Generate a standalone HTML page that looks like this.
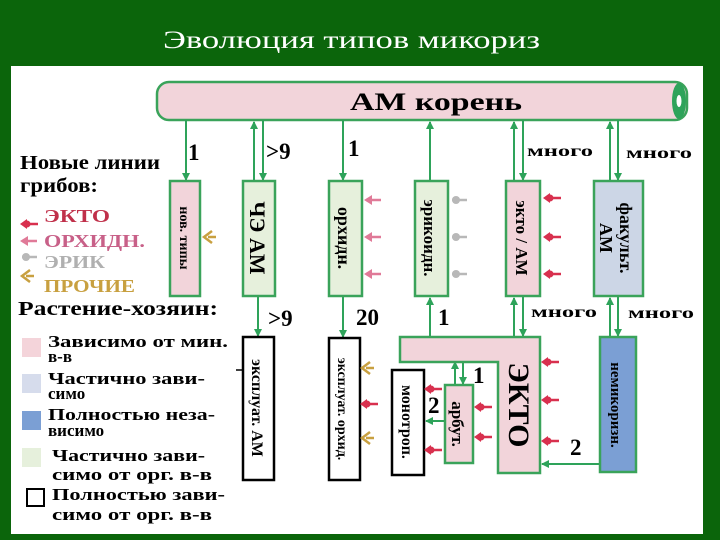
<!DOCTYPE html>
<html><head><meta charset="utf-8"><style>
html,body{margin:0;padding:0;background:#0b650b;}
svg{display:block}
text{font-family:"Liberation Serif",serif;}
</style></head><body>
<svg width="720" height="540" viewBox="0 0 720 540" xmlns="http://www.w3.org/2000/svg">
<defs>
<marker id="a" markerWidth="8" markerHeight="8" refX="7" refY="4" orient="auto" markerUnits="userSpaceOnUse"><path d="M0,0 L8,4 L0,8 z" fill="#2ea35a"/></marker>
<g id="red"><path d="M0,0 H16" stroke="#d8304e" stroke-width="2.5"/><path d="M-2,0 L5,-5 L5,5 z" fill="#d8304e"/><circle cx="5" cy="0" r="3.5" fill="#d8304e"/></g>
<g id="pink"><path d="M0,0 H15" stroke="#e07a98" stroke-width="2.5"/><path d="M-2,0 L6,-5 L6,5 z" fill="#e07a98"/></g>
<g id="grey"><path d="M0,0 H15" stroke="#b8b8b8" stroke-width="2.5"/><circle cx="4" cy="0" r="4" fill="#b8b8b8"/></g>
<g id="yel"><path d="M8,-6 L0,0 L8,6 M4,0 H12" stroke="#c8a040" stroke-width="2.5" fill="none"/></g>
</defs>
<rect width="720" height="540" fill="#0b650b"/>
<text x="163" y="48" fill="#fff" font-size="25" textLength="377" lengthAdjust="spacingAndGlyphs">Эволюция типов микориз</text>
<rect x="11" y="66" width="692" height="468" fill="#fff"/>

<rect x="157" y="82" width="530" height="38" rx="12" fill="#f2d4da" stroke="#3aa35a" stroke-width="2.5"/>
<ellipse cx="679" cy="101" rx="7" ry="18" fill="#2ea35a"/><ellipse cx="679" cy="101" rx="2.5" ry="6" fill="#fff"/>
<text x="350" y="110" font-size="25" font-weight="bold" textLength="172" lengthAdjust="spacingAndGlyphs">АМ корень</text>

<g stroke="#2ea35a" stroke-width="2" fill="none">
<path d="M186,120 V180" marker-end="url(#a)"/>
<path d="M254,181 V122" marker-end="url(#a)"/>
<path d="M263,120 V180" marker-end="url(#a)"/>
<path d="M343,120 V180" marker-end="url(#a)"/>
<path d="M430,181 V122" marker-end="url(#a)"/>
<path d="M514,181 V122" marker-end="url(#a)"/>
<path d="M523,120 V180" marker-end="url(#a)"/>
<path d="M610,181 V122" marker-end="url(#a)"/>
<path d="M618,120 V180" marker-end="url(#a)"/>
<path d="M258,296 V336" marker-end="url(#a)"/>
<path d="M343,296 V337" marker-end="url(#a)"/>
<path d="M430,337 V298" marker-end="url(#a)"/>
<path d="M514,337 V298" marker-end="url(#a)"/>
<path d="M523,296 V336" marker-end="url(#a)"/>
<path d="M610,337 V298" marker-end="url(#a)"/>
<path d="M618,296 V336" marker-end="url(#a)"/>
<path d="M455,385 V362" marker-end="url(#a)"/>
<path d="M463,362 V384" marker-end="url(#a)"/>
<path d="M445,421 H426" marker-end="url(#a)"/>
<path d="M600,464 H542" marker-end="url(#a)"/>
</g>

<g font-weight="bold" font-size="23">
<text x="188" y="160">1</text><text x="266" y="159">&gt;9</text><text x="348" y="156">1</text>
<text x="268" y="326">&gt;9</text><text x="356" y="325">20</text><text x="438" y="325">1</text>
<text x="473" y="383">1</text><text x="428" y="413">2</text><text x="570" y="455">2</text>
</g>
<g font-weight="bold" font-size="16">
<text x="527" y="156" textLength="66" lengthAdjust="spacingAndGlyphs">много</text>
<text x="626" y="158" textLength="66" lengthAdjust="spacingAndGlyphs">много</text>
<text x="531" y="317" textLength="66" lengthAdjust="spacingAndGlyphs">много</text>
<text x="628" y="318" textLength="66" lengthAdjust="spacingAndGlyphs">много</text>
</g>

<g stroke="#3aa35a" stroke-width="2.5">
<rect x="170" y="181" width="30" height="115" fill="#f2d4da"/>
<rect x="243" y="181" width="32" height="115" fill="#e6f0dc"/>
<rect x="329" y="181" width="33" height="115" fill="#e6f0dc"/>
<rect x="415" y="181" width="33" height="115" fill="#e6f0dc"/>
<rect x="506" y="181" width="34" height="115" fill="#f2d4da"/>
<rect x="594" y="181" width="49" height="115" fill="#ccd6e6"/>
</g>
<g font-weight="bold" text-anchor="middle">
<text transform="translate(180,238) rotate(90)" font-size="14">нов. типы</text>
<text transform="translate(250,238) rotate(90)" font-size="22">ЧЭ АМ</text>
<text transform="translate(338,238) rotate(90)" font-size="18">орхидн.</text>
<text transform="translate(424,238) rotate(90)" font-size="17">эрикоидн.</text>
<text transform="translate(516,238) rotate(90)" font-size="17">экто / АМ</text>
<text transform="translate(620,238) rotate(90)" font-size="18">факульт.</text>
<text transform="translate(600,238) rotate(90)" font-size="18">АМ</text>
</g>

<g stroke="#000" stroke-width="2.5" fill="#fff">
<rect x="243" y="337" width="31" height="143"/>
<rect x="329" y="338" width="31" height="142"/>
<rect x="392" y="370" width="32" height="105"/>
</g>
<path d="M400,337 H540 V473 H498 V362 H400 Z" fill="#f2d4da" stroke="#3aa35a" stroke-width="2.5"/>
<rect x="445" y="385" width="28" height="78" fill="#f2d4da" stroke="#3aa35a" stroke-width="2.5"/>
<rect x="600" y="337" width="36" height="135" fill="#7b9fd4" stroke="#3aa35a" stroke-width="2.5"/>
<g font-weight="bold" text-anchor="middle">
<text transform="translate(252,408) rotate(90)" font-size="16">эксплуат. АМ</text>
<text transform="translate(338,409) rotate(90)" font-size="14">эксплуат. орхид.</text>
<text transform="translate(402,422) rotate(90)" font-size="16">монотроп.</text>
<text transform="translate(452,424) rotate(90)" font-size="17">арбут.</text>
<text transform="translate(509,405) rotate(90)" font-size="30">ЭКТО</text>
<text transform="translate(611,405) rotate(90)" font-size="15">немикоризн.</text>
</g>
<path d="M236,370 H242" stroke="#000" stroke-width="1.5"/>

<use href="#yel" x="204" y="237"/>
<use href="#pink" x="366" y="200"/><use href="#pink" x="366" y="237"/><use href="#pink" x="366" y="274"/>
<use href="#grey" x="452" y="200"/><use href="#grey" x="452" y="237"/><use href="#grey" x="452" y="274"/>
<use href="#red" x="545" y="198"/><use href="#red" x="545" y="237"/><use href="#red" x="545" y="274"/>
<use href="#yel" x="362" y="368"/><use href="#red" x="362" y="404"/><use href="#yel" x="362" y="438"/>
<use href="#red" x="426" y="389"/><use href="#red" x="426" y="450"/>
<use href="#red" x="476" y="407"/><use href="#red" x="476" y="437"/>
<use href="#red" x="543" y="362"/><use href="#red" x="543" y="400"/><use href="#red" x="543" y="441"/>

<g font-weight="bold" lengthAdjust="spacingAndGlyphs">
<text x="20" y="169" font-size="20" textLength="140" lengthAdjust="spacingAndGlyphs">Новые линии</text>
<text x="20" y="192" font-size="20" textLength="78" lengthAdjust="spacingAndGlyphs">грибов:</text>
<text x="44" y="222" font-size="18" fill="#c0304a" textLength="66" lengthAdjust="spacingAndGlyphs">ЭКТО</text>
<text x="44" y="247" font-size="18" fill="#c86088" textLength="101" lengthAdjust="spacingAndGlyphs">ОРХИДН.</text>
<text x="44" y="268" font-size="18" fill="#b0b0b0" textLength="61" lengthAdjust="spacingAndGlyphs">ЭРИК</text>
<text x="44" y="292" font-size="18" fill="#c8a040" textLength="91" lengthAdjust="spacingAndGlyphs">ПРОЧИЕ</text>
<text x="18" y="315" font-size="20" textLength="200" lengthAdjust="spacingAndGlyphs">Растение-хозяин:</text>
</g>
<use href="#red" x="22" y="224"/><use href="#pink" x="22" y="241"/><use href="#grey" x="22" y="257"/><use href="#yel" x="22" y="276"/>
<rect x="22" y="338" width="19" height="19" fill="#f4d4da"/>
<rect x="22" y="374" width="19" height="19" fill="#d6dcec"/>
<rect x="22" y="411" width="19" height="19" fill="#7b9fd4"/>
<rect x="22" y="448" width="19" height="19" fill="#e6f0dc"/>
<rect x="27" y="489" width="17" height="17" fill="#fff" stroke="#000" stroke-width="2"/>
<g font-weight="bold" font-size="17">
<text x="48" y="347" textLength="180" lengthAdjust="spacingAndGlyphs">Зависимо от мин.</text><text x="48" y="362">в-в</text>
<text x="48" y="384" textLength="157" lengthAdjust="spacingAndGlyphs">Частично зави-</text><text x="48" y="399">симо</text>
<text x="48" y="420" textLength="167" lengthAdjust="spacingAndGlyphs">Полностью неза-</text><text x="48" y="436">висимо</text>
<text x="52" y="461" textLength="153" lengthAdjust="spacingAndGlyphs">Частично зави-</text><text x="52" y="480" textLength="160" lengthAdjust="spacingAndGlyphs">симо от орг. в-в</text>
<text x="52" y="500" textLength="173" lengthAdjust="spacingAndGlyphs">Полностью зави-</text><text x="52" y="520" textLength="160" lengthAdjust="spacingAndGlyphs">симо от орг. в-в</text>
</g>
</svg>
</body></html>
